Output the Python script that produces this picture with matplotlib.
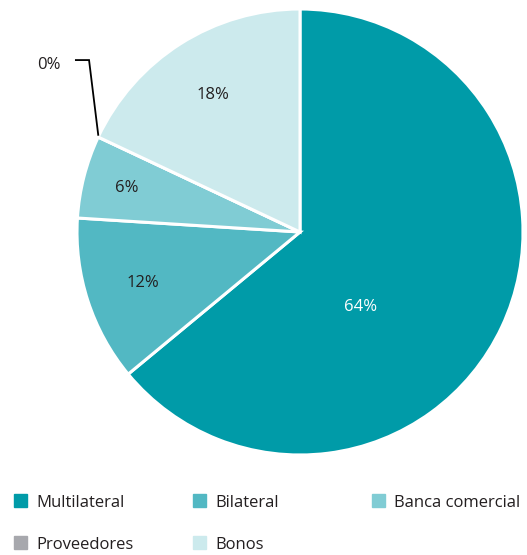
"""Pie chart of debt composition by creditor type."""

import numpy as np
import matplotlib

matplotlib.use("Agg")
import matplotlib.pyplot as plt
from matplotlib.patches import Rectangle

plt.rcParams["font.family"] = ["Open Sans", "DejaVu Sans"]

categories = ["Multilateral", "Bilateral", "Banca comercial", "Proveedores", "Bonos"]
shares = [64, 12, 6, 0, 18]
colors = ["#009ba8", "#52b8c3", "#80ccd4", "#a7a8ad", "#cceaed"]
label_radius = [0.43, 0.74, 0.80, 0.0, 0.73]
TEXT = "#231f20"

W, H = 527, 555
fig = plt.figure(figsize=(W / 100, H / 100), dpi=100)
ax = fig.add_axes([77 / W, (H - 455) / H, 446 / W, 446 / H])

wedges, _ = ax.pie(
    shares,
    colors=colors,
    startangle=90,
    counterclock=False,
    radius=1.0,
    wedgeprops=dict(edgecolor="white", linewidth=2.2),
)
ax.set_xlim(-1, 1)
ax.set_ylim(-1, 1)
ax.set_aspect("equal")
ax.axis("off")

# slice labels at the middle angle of each wedge
for i, (w, v) in enumerate(zip(wedges, shares)):
    if v == 0:
        continue
    mid = np.deg2rad((w.theta1 + w.theta2) / 2)
    if i == 0:
        mid = np.deg2rad(-51)
    r = label_radius[i]
    ax.text(r * np.cos(mid), r * np.sin(mid), f"{v}%",
            ha="center", va="center", fontsize=12,
            color="white" if i == 0 else TEXT)

# leader line for the empty slice
zero = wedges[3]
ang = np.deg2rad(zero.theta1)
x0, y0 = np.cos(ang), np.sin(ang)
ax.plot([x0, -0.946, -1.005], [y0 + 0.01, 0.771, 0.771], color="black",
        linewidth=1.3, clip_on=False, solid_joinstyle="miter")
ax.text(-1.075, 0.75, f"{shares[3]}%", ha="right", va="center",
        fontsize=12, color=TEXT, clip_on=False)

# legend laid out in rows of three
col_x = [14, 193, 372]
row_y = [503, 545]
for i, (name, c) in enumerate(zip(categories, colors)):
    cx = col_x[i % 3]
    cy = row_y[i // 3]
    fig.add_artist(Rectangle((cx / W, (H - cy - 4) / H), 13 / W, 13 / H,
                             transform=fig.transFigure, color=c))
    fig.text((cx + 22) / W, (H - cy) / H, name, ha="left", va="center",
             fontsize=12, color=TEXT)

fig.savefig("out.png", dpi=100)
